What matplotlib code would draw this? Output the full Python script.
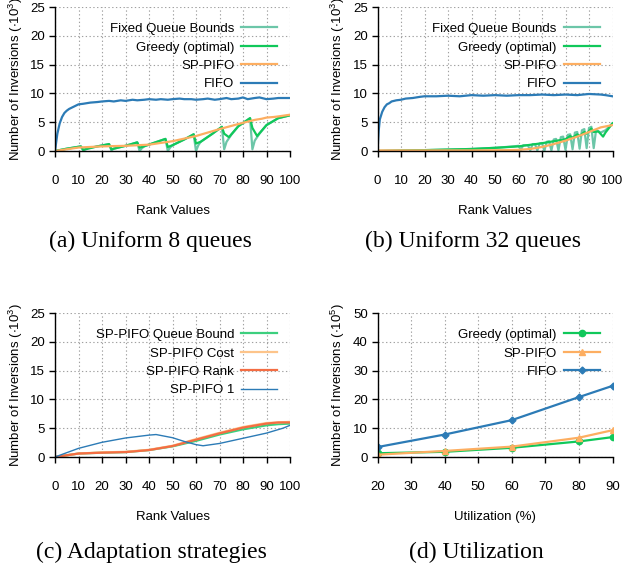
import matplotlib
matplotlib.use("Agg")
import matplotlib.pyplot as plt

plt.rcParams['font.family'] = ['Liberation Sans', 'DejaVu Sans']
plt.rcParams['mathtext.fontset'] = 'custom'
plt.rcParams['mathtext.rm'] = 'Liberation Sans'
plt.rcParams['mathtext.default'] = 'regular'
plt.rcParams['font.size'] = 9.5

#### DATA
# (a) Uniform 8 queues
a_fixed_x = [0, 5, 11, 12, 13, 14, 18, 23, 24, 25, 30, 35, 36, 37, 38, 42, 47, 48, 49, 50,
             55, 59, 60, 61, 62, 67, 71, 72, 73, 75, 78, 83, 84, 85, 87, 90, 95, 100]
a_fixed_y = [0, 0.4, 0.8, 0.1, 0.3, 0.5, 0.8, 1.2, 0.1, 0.4, 0.9, 1.5, 0.0, 0.5, 0.8, 1.4, 2.1, 0.0, 0.6, 1.0,
             2.0, 2.9, 0.0, 1.0, 1.6, 3.0, 4.2, 0.3, 1.6, 2.8, 4.3, 5.7, 0.3, 1.8, 3.0, 4.5, 5.7, 6.2]
a_greedy_x = [0, 5, 11, 12, 13, 18, 23, 24, 25, 30, 35, 36, 37, 42, 47, 48, 50, 55, 59, 60,
              62, 67, 71, 72, 74, 78, 83, 84, 86, 90, 95, 100]
a_greedy_y = [0, 0.4, 0.8, 0.2, 0.3, 0.8, 1.2, 0.3, 0.4, 0.9, 1.5, 0.6, 0.7, 1.4, 2.1, 0.7, 1.0, 2.0, 2.9, 1.3,
              1.6, 3.0, 4.2, 3.0, 2.4, 4.3, 5.7, 4.0, 2.6, 4.5, 5.7, 6.2]
a_sppifo_x = [0, 10, 20, 30, 40, 50, 60, 70, 80, 85, 88, 90, 93, 95, 100]
a_sppifo_y = [0, 0.6, 0.8, 0.9, 1.1, 1.7, 2.6, 3.8, 4.9, 5.4, 5.6, 5.8, 5.9, 6.0, 6.3]
a_fifo_x = [0, 1, 2, 3, 4, 5, 6, 8, 10, 12, 15, 18, 20, 23, 25, 28, 30, 33, 35, 38, 40, 43,
            45, 48, 50, 53, 55, 58, 60, 63, 65, 68, 70, 73, 75, 78, 80, 82, 85, 87, 90, 93, 95, 98, 100]
a_fifo_y = [0, 3.0, 4.8, 5.9, 6.6, 7.0, 7.3, 7.7, 8.1, 8.2, 8.4, 8.5, 8.6, 8.7, 8.6, 8.8, 8.7, 8.9, 8.8, 8.9, 9.0, 8.9,
            9.0, 8.9, 9.0, 9.1, 9.0, 9.0, 8.9, 9.0, 9.1, 8.9, 9.0, 9.2, 9.0, 9.1, 9.3, 9.0, 9.2, 9.3, 9.0, 9.1, 9.2, 9.2, 9.2]

# (b) Uniform 32 queues
b_fixed_x = [0, 20, 40, 50, 58, 60, 61, 62, 64, 65, 66, 67, 68, 69, 70, 71, 72, 73, 74, 75, 76, 77,
             78, 79, 80, 81, 82, 83, 84, 85, 86, 87, 88, 89, 90, 91, 92, 93, 95, 97, 100]
b_fixed_y = [0, 0.15, 0.35, 0.55, 0.8, 0.9, 0.2, 1.0, 1.0, 0.1, 1.2, 1.2, 0.1, 1.3, 1.4, 0.0, 1.6, 1.7, 0.1, 2.0, 2.1, 0.1,
             2.4, 2.5, 0.2, 2.8, 2.9, 0.3, 3.2, 3.3, 0.4, 3.6, 3.8, 0.5, 4.0, 4.2, 0.5, 3.6, 3.2, 3.6, 4.8]
b_greedy_x = [0, 20, 40, 50, 60, 70, 75, 80, 82, 83, 85, 86, 88, 89, 91, 92, 94, 96, 97, 100]
b_greedy_y = [0, 0.15, 0.35, 0.55, 0.8, 1.35, 1.7, 2.05, 2.6, 2.3, 2.9, 2.6, 3.3, 3.0, 3.9, 3.3, 3.4, 2.5, 3.2, 4.8]
b_sppifo_x = [0, 20, 40, 55, 60, 65, 70, 75, 80, 85, 90, 95, 100]
b_sppifo_y = [0.1, 0.1, 0.1, 0.15, 0.2, 0.35, 0.7, 1.2, 1.8, 2.5, 3.3, 4.1, 4.5]
b_fifo_x = [0, 0.5, 1, 2, 3, 4, 5, 6, 8, 10, 12, 15, 18, 20, 25, 30, 35, 40, 45, 50, 55, 60,
            65, 70, 75, 80, 85, 90, 95, 97, 100]
b_fifo_y = [0, 3.5, 5.5, 6.8, 7.6, 8.1, 8.3, 8.6, 8.8, 8.9, 9.1, 9.2, 9.4, 9.5, 9.5, 9.6, 9.5, 9.7, 9.6, 9.7, 9.6, 9.7,
            9.7, 9.8, 9.7, 9.8, 9.7, 9.9, 9.8, 9.7, 9.5]

# (c) Adaptation strategies
c_qbound_x = [0, 10, 20, 30, 40, 50, 60, 70, 80, 90, 95, 100]
c_qbound_y = [0, 0.6, 0.75, 0.85, 1.2, 1.85, 2.8, 3.9, 4.8, 5.5, 5.7, 5.8]
c_cost_x = [0, 10, 20, 30, 40, 50, 60, 70, 80, 90, 95, 100]
c_cost_y = [0, 0.6, 0.8, 0.9, 1.25, 1.95, 3.1, 4.2, 5.2, 5.9, 6.0, 6.1]
c_rank_x = [0, 10, 20, 30, 40, 50, 60, 70, 80, 90, 95, 100]
c_rank_y = [0, 0.6, 0.75, 0.85, 1.2, 1.9, 3.0, 4.1, 5.1, 5.8, 6.0, 6.0]
c_one_x = [0, 10, 20, 30, 40, 43, 50, 55, 60, 63, 70, 80, 90, 97, 100]
c_one_y = [0, 1.5, 2.55, 3.3, 3.8, 3.9, 3.35, 2.7, 2.15, 1.95, 2.35, 3.25, 4.15, 5.0, 5.5]

# (d) Utilization
util = [20, 40, 60, 80, 90]
d_greedy = [1.3, 1.8, 3.2, 5.4, 6.9]
d_sppifo = [0.8, 2.1, 3.6, 6.7, 9.3]
d_fifo = [3.45, 7.8, 12.8, 20.8, 24.7]

captions = ["(a) Uniform 8 queues", "(b) Uniform 32 queues",
            "(c) Adaptation strategies", "(d) Utilization"]

C_TEAL = '#6cc6a8'
C_GREEN = '#10c85a'
C_ORANGE = '#fdae61'
C_BLUE = '#2c7bb6'
C_QB = '#3ccf7e'
C_COST = '#fdc48a'
C_RANK = '#f46d43'


def style_axes(ax, xlim, ylim, xstep, ystep, xlabel, ylabel):
    ax.set_xlim(*xlim)
    ax.set_ylim(*ylim)
    ax.set_xticks(range(xlim[0], xlim[1] + 1, xstep))
    ax.set_yticks(range(ylim[0], ylim[1] + 1, ystep))
    for s in ['top', 'right']:
        ax.spines[s].set_visible(False)
    for s in ['left', 'bottom']:
        ax.spines[s].set_linewidth(1.0)
    ax.grid(True, color='#a0a0a0', linestyle=(0, (1.2, 2.2)), linewidth=0.8)
    ax.set_axisbelow(True)
    ax.tick_params(axis='x', direction='out', length=4, width=1.0, pad=13, labelsize=9.5)
    ax.tick_params(axis='y', direction='out', length=4, width=1.0, pad=3, labelsize=9.5)
    ax.set_xlabel(xlabel, labelpad=13, fontsize=9.5)
    ax.set_ylabel(ylabel, labelpad=4, fontsize=9.5)
    leg = ax.legend(loc='upper right', bbox_to_anchor=(0.945, 0.89), frameon=False,
                    markerfirst=False, borderpad=0, borderaxespad=0, handlelength=2.7,
                    handletextpad=0.55, labelspacing=0.47, numpoints=1, fontsize=9.5)
    return leg


fig = plt.figure(figsize=(6.24, 5.69), dpi=100)
W, H = 624., 569.
pos = {'a': (55, 151), 'b': (377.5, 151), 'c': (55, 457), 'd': (377.5, 457)}
aw, ah = 235., 144.
axs = {}
for k, (l, b) in pos.items():
    axs[k] = fig.add_axes([l / W, 1 - b / H, aw / W, ah / H])

ylab3 = "Number of Inversions ($\\cdot10^{3}$)"
ylab5 = "Number of Inversions ($\\cdot10^{5}$)"

ax = axs['a']
ax.plot(a_fixed_x, a_fixed_y, color=C_TEAL, lw=1.6, label="Fixed Queue Bounds")
ax.plot(a_greedy_x, a_greedy_y, color=C_GREEN, lw=1.6, label="Greedy (optimal)")
ax.plot(a_sppifo_x, a_sppifo_y, color=C_ORANGE, lw=1.6, label="SP-PIFO")
ax.plot(a_fifo_x, a_fifo_y, color=C_BLUE, lw=1.6, label="FIFO")
style_axes(ax, (0, 100), (0, 25), 10, 5, "Rank Values", ylab3)

ax = axs['b']
ax.plot(b_fixed_x, b_fixed_y, color=C_TEAL, lw=1.6, label="Fixed Queue Bounds")
ax.plot(b_greedy_x, b_greedy_y, color=C_GREEN, lw=1.6, label="Greedy (optimal)")
ax.plot(b_sppifo_x, b_sppifo_y, color=C_ORANGE, lw=1.6, label="SP-PIFO")
ax.plot(b_fifo_x, b_fifo_y, color=C_BLUE, lw=1.6, label="FIFO")
style_axes(ax, (0, 100), (0, 25), 10, 5, "Rank Values", ylab3)

ax = axs['c']
ax.plot(c_qbound_x, c_qbound_y, color=C_QB, lw=1.6, label="SP-PIFO Queue Bound")
ax.plot(c_cost_x, c_cost_y, color=C_COST, lw=1.6, label="SP-PIFO Cost")
ax.plot(c_rank_x, c_rank_y, color=C_RANK, lw=1.6, label="SP-PIFO Rank")
ax.plot(c_one_x, c_one_y, color=C_BLUE, lw=1.0, label="SP-PIFO 1")
style_axes(ax, (0, 100), (0, 25), 10, 5, "Rank Values", ylab3)

ax = axs['d']
ax.plot(util, d_greedy, color=C_GREEN, lw=1.6, marker='o', ms=4.5, label="Greedy (optimal)")
ax.plot(util, d_sppifo, color=C_ORANGE, lw=1.6, marker='^', ms=4.5, label="SP-PIFO")
ax.plot(util, d_fifo, color=C_BLUE, lw=1.6, marker='D', ms=3.5, label="FIFO")
style_axes(ax, (20, 90), (0, 50), 10, 10, "Utilization (%)", ylab5)

cap_pos = [(150, 241), (473, 241), (151, 552), (476, 552)]
for (cx, cy), txt in zip(cap_pos, captions):
    fig.text(cx / W, 1 - cy / H, txt, ha='center', va='center',
             fontsize=17, family=['Liberation Serif', 'DejaVu Serif'])

fig.savefig("out.png", dpi=100)
